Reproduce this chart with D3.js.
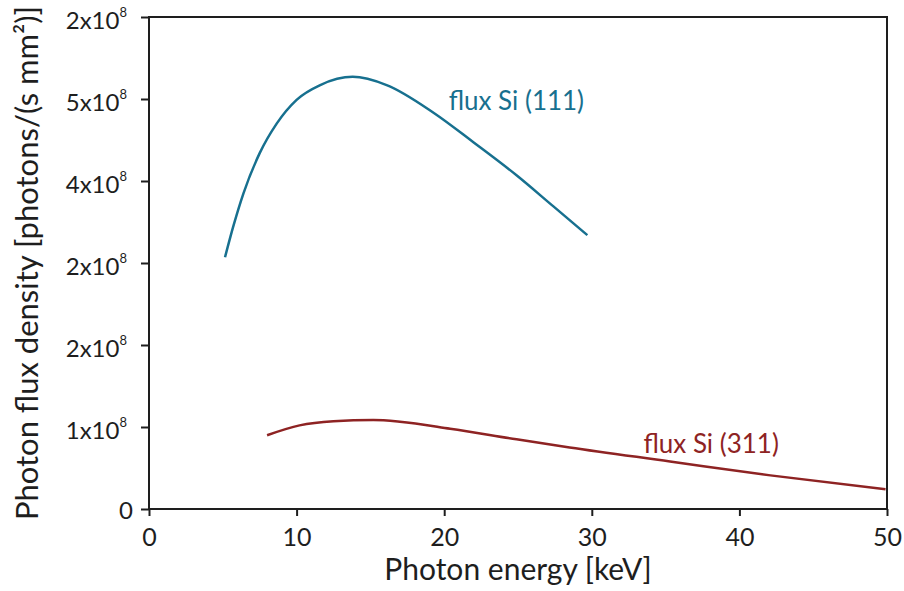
<!DOCTYPE html>
<html>
<head>
<meta charset="utf-8">
<script src="https://cdn.jsdelivr.net/npm/d3@7"></script>
<style>
	body { margin: 0; background: #fff; }
	text { font-family: Lato, "Open Sans", sans-serif; }
</style>
</head>
<body>
<svg id="chart"></svg>
<script>
// DATA

var energy111 = [5.15, 5.7, 6.4, 7.5, 8.65, 10.0, 11.6, 13.8, 16.1, 19.3, 22.0, 24.9, 27.4, 29.7];
var flux111   = [3.07, 3.44, 3.85, 4.34, 4.70, 4.99, 5.17, 5.27, 5.17, 4.83, 4.47, 4.07, 3.69, 3.34];

var energy311 = [8.0, 10.2, 12.5, 15.2, 17.0, 20.4, 24.9, 28.5, 35.3, 42.1, 49.9];
var flux311   = [0.90, 1.02, 1.07, 1.085, 1.065, 0.98, 0.85, 0.75, 0.58, 0.41, 0.24];

var xTicks = [0, 10, 20, 30, 40, 50];
var yTicks = [0, 1, 2, 3, 4, 5, 6];
// labels as printed on the original (mantissa x10^exp)
var yTickLabels = ["0", "1x10^8", "2x10^8", "2x10^8", "4x10^8", "5x10^8", "2x10^8"];

var xTitle = "Photon energy [keV]";
var yTitle = "Photon flux density [photons/(s mm\u00b2)]";

// DIMENSIONS

var width = 904,
	height = 591,
	margin = {top: 17, right: 17, bottom: 82, left: 149};

var colors = { s111: "#17708f", s311: "#8e2323", axis: "#1e1e1e" };

var svg = d3.select("#chart")
	.attr('width', width)
	.attr('height', height);

var xScale = d3.scaleLinear()
	.domain([0, 50])
	.range([margin.left, width - margin.right]);

var yScale = d3.scaleLinear()
	.domain([0, 6])
	.range([height - margin.bottom, margin.top]);

// frame

svg.append('rect')
	.attr('x', xScale(0))
	.attr('y', yScale(6))
	.attr('width', xScale(50) - xScale(0))
	.attr('height', yScale(0) - yScale(6))
	.style('fill', 'none')
	.style('stroke', colors.axis)
	.style('stroke-width', 2);

// axes

var xAxis = svg.append('g')
	.attr('transform', 'translate(0,' + yScale(0) + ')')
	.call(d3.axisBottom(xScale).tickValues(xTicks).tickSize(7));

var yAxis = svg.append('g')
	.attr('transform', 'translate(' + xScale(0) + ',0)')
	.call(d3.axisLeft(yScale).tickValues(yTicks).tickSize(8)
		.tickFormat(function(d, i) { return yTickLabels[i].split('^')[0]; }));

[xAxis, yAxis].forEach(function(g) {
	g.select('.domain').remove();
	g.selectAll('line').style('stroke', colors.axis).style('stroke-width', 2);
	g.selectAll('text').style('fill', colors.axis);
});

xAxis.selectAll('text')
	.attr('y', 37)
	.attr('dy', 0)
	.style('font-size', '25px');

// superscript exponents on y labels
yAxis.selectAll('text')
	.style('font-size', '24px')
	.attr('x', -22)
	.attr('dy', 11)
	.each(function(d, i) {
		var parts = yTickLabels[i].split('^');
		if (parts.length > 1) {
			d3.select(this).append('tspan')
				.attr('dy', -12)
				.style('font-size', '13px')
				.text(parts[1]);
		} else {
			d3.select(this).attr('x', -16).attr('dy', 9);
		}
	});

// titles

svg.append('text')
	.attr('x', (xScale(0) + xScale(50)) / 2)
	.attr('y', 580)
	.attr('text-anchor', 'middle')
	.style('font-size', '30px')
	.style('fill', colors.axis)
	.text(xTitle);

svg.append('text')
	.attr('transform', 'translate(38,' + (yScale(0) + yScale(6)) / 2 + ') rotate(-90)')
	.attr('text-anchor', 'middle')
	.style('font-size', '31px')
	.style('fill', colors.axis)
	.text(yTitle);

// curves

var line = d3.line()
	.x(function(d) { return xScale(d[0]); })
	.y(function(d) { return yScale(d[1]); })
	.curve(d3.curveMonotoneX);

svg.append('path')
	.datum(d3.zip(energy111, flux111))
	.attr('d', line)
	.style('fill', 'none')
	.style('stroke', colors.s111)
	.style('stroke-width', 2.5);

svg.append('path')
	.datum(d3.zip(energy311, flux311))
	.attr('d', line)
	.style('fill', 'none')
	.style('stroke', colors.s311)
	.style('stroke-width', 2.5);

// curve labels

svg.append('text')
	.attr('x', xScale(20.3))
	.attr('y', yScale(4.87))
	.style('font-size', '26px')
	.style('fill', colors.s111)
	.text("flux Si (111)");

svg.append('text')
	.attr('x', xScale(33.5))
	.attr('y', yScale(0.68))
	.style('font-size', '26px')
	.style('fill', colors.s311)
	.text("flux Si (311)");
</script>
</body>
</html>
